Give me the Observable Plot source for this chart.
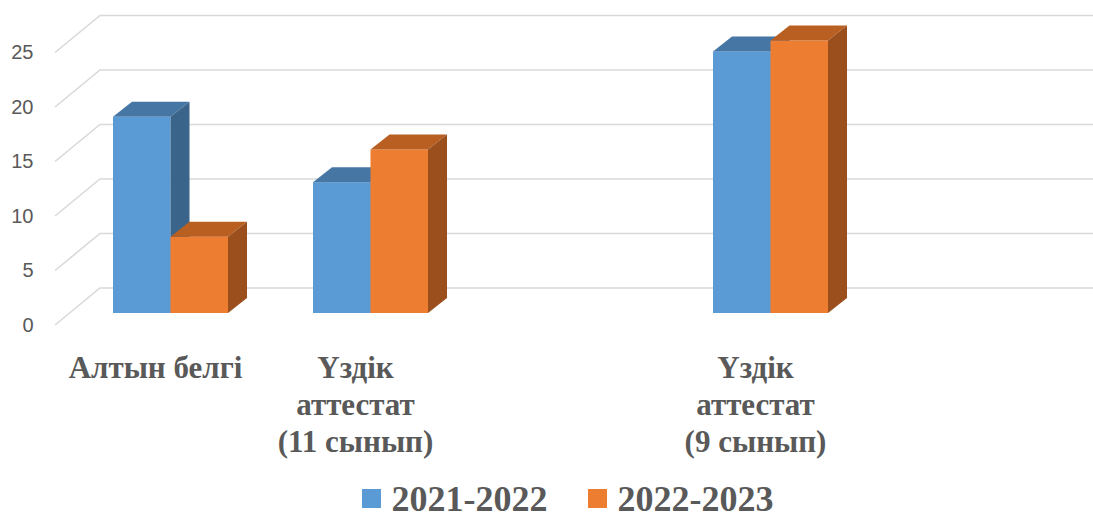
<!DOCTYPE html>
<html><head><meta charset="utf-8">
<script src="https://cdn.jsdelivr.net/npm/d3@7"></script>
<script src="https://cdn.jsdelivr.net/npm/@observablehq/plot@0.6"></script>
<style>
html,body{margin:0;padding:0;background:#fff;overflow:hidden;width:1093px;height:517px}
#legend{display:flex;justify-content:center;align-items:center;height:37px;line-height:37px;font:bold 36px "Liberation Serif",serif;color:#595959;padding-left:42px;white-space:nowrap}
#legend .sw{width:19px;height:19px;display:inline-block;margin-right:11px}
#legend .item{display:flex;align-items:center;margin:0 20px}
</style></head>
<body><div id="chart"></div><div id="legend"></div>
<script>
const categories = ["Алтын белгі", "Үздік аттестат (11 сынып)", "", "Үздік аттестат (9 сынып)", " "];
const tickLabels = ["Алтын белгі", "Үздік\nаттестат\n(11 сынып)", "", "Үздік\nаттестат\n(9 сынып)", ""];
const series = ["2021-2022", "2022-2023"];
const values2021 = [18, 12, null, 24, null];
const values2022 = [7, 15, null, 25, null];
const yTicks = [0, 5, 10, 15, 20, 25];
const frontColors = ["#5B9BD5", "#ED7D31"];
const topColors = ["#4677A4", "#B95F22"];
const sideColors = ["#3A6489", "#9A4F1C"];

const rows = categories.map((c, i) => ({category: c, label: tickLabels[i], v: [values2021[i], values2022[i]]}));

const W = 1093, H = 480;

function grid(index, scales) {
  const {x, y} = scales;
  const g = d3.create("svg:g").attr("fill", "none").attr("stroke", "#D9D9D9").attr("stroke-width", 1.6);
  const x0 = x.range()[0];
  for (const t of yTicks) {
    const yy = y(t);
    g.append("path").attr("d", `M${x0},${yy + 12}L${x0 + 45},${yy - 25}L${W},${yy - 25}`);
  }
  return g.node();
}

function bars(index, scales) {
  const {x, y} = scales;
  const bw = x.bandwidth ? x.bandwidth() : 200;
  const g = d3.create("svg:g");
  const dx = 19, dy = -15;
  const y0 = y(0);
  for (const r of rows) {
    const sx = x(r.category);
    r.v.forEach((v, s) => {
      if (v == null) return;
      const xl = sx + 0.29 * bw + s * 0.2875 * bw, xr = xl + 0.2875 * bw, yt = y(v);
      g.append("rect").attr("x", xl).attr("y", yt).attr("width", xr - xl).attr("height", y0 - yt).attr("fill", frontColors[s]);
      g.append("path").attr("d", `M${xl},${yt}L${xr},${yt}L${xr + dx},${yt + dy}L${xl + dx},${yt + dy}Z`).attr("fill", topColors[s]);
      g.append("path").attr("d", `M${xr},${yt}L${xr + dx},${yt + dy}L${xr + dx},${y0 + dy}L${xr},${y0}Z`).attr("fill", sideColors[s]);
    });
  }
  return g.node();
}

const chart = Plot.plot({
  width: W,
  height: H,
  marginLeft: 40,
  marginRight: 0,
  marginTop: 0,
  marginBottom: 0,
  style: {fontFamily: "Liberation Sans, sans-serif", fontSize: "20px", color: "#595959", background: "white"},
  x: {type: "band", domain: categories, range: [55, 1055], padding: 0, axis: null},
  y: {domain: [0, 25], range: [313, 40.5]},
  marks: [
    grid,
    bars,
    Plot.axisY(yTicks, {anchor: "left", tickSize: 0, tickPadding: 7, dy: 12, fontSize: 20, color: "#595959", label: null}),
    Plot.text(rows, {x: "category", y: () => 0, text: "label", dy: 38, lineAnchor: "top", lineHeight: 1.2,
      fontSize: 31, fontWeight: "bold", fontFamily: "Liberation Serif, serif", fill: "#595959"})
  ]
});
document.getElementById("chart").appendChild(chart);

const legend = document.getElementById("legend");
series.forEach((s, i) => {
  const item = document.createElement("div");
  item.className = "item";
  const sw = document.createElement("span");
  sw.className = "sw";
  sw.style.background = frontColors[i];
  item.appendChild(sw);
  item.appendChild(document.createTextNode(s));
  legend.appendChild(item);
});
</script>
</body></html>
